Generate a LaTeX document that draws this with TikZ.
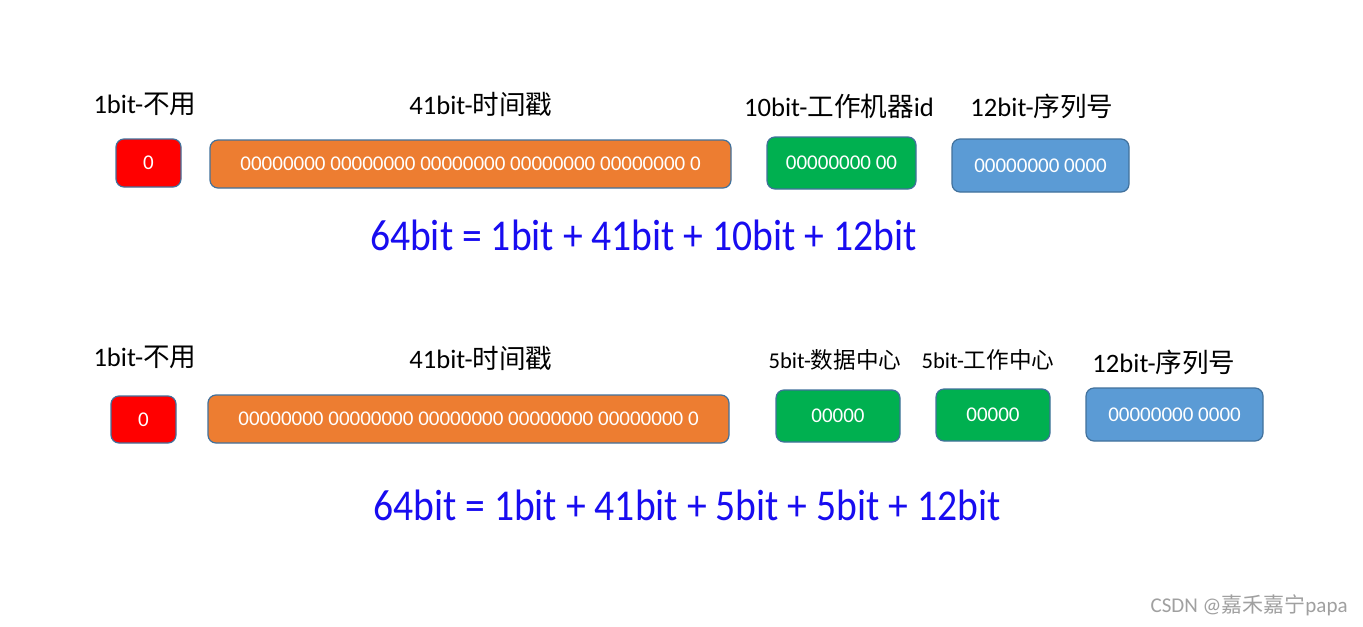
\documentclass[tikz,border=0pt]{standalone}
\usepackage{fontspec}
\setmainfont{Carlito}
\newfontfamily\cjk{Noto Sans CJK SC}
\newfontfamily\sumfont[FakeStretch=0.9]{Carlito}
\newcommand\zh[1]{{\cjk #1}}
\usetikzlibrary{positioning}
\definecolor{signred}{RGB}{255,0,0}
\definecolor{timeorange}{RGB}{237,125,49}
\definecolor{workgreen}{RGB}{0,176,80}
\definecolor{seqblue}{RGB}{91,155,213}
\definecolor{fieldline}{RGB}{65,113,156}
\definecolor{sumblue}{RGB}{24,12,240}
\definecolor{markgray}{RGB}{160,160,160}
\tikzset{
    field/.style={draw=fieldline,line width=0.6pt,rounded corners=4pt,
        text=white,inner sep=0pt,font=\fontsize{10.5}{12}\selectfont},
    title/.style={inner sep=0pt,font=\fontsize{13.3}{15}\selectfont},
    smalltitle/.style={inner sep=0pt,font=\fontsize{11.3}{13}\selectfont},
    sum/.style={inner sep=0pt,text=sumblue,font=\sumfont\fontsize{22}{26}\selectfont}
}

\begin{document}
\begin{tikzpicture}[x=0.5pt,y=-0.5pt]
    \fill[white] (0,0) rectangle (1363,626);
    \useasboundingbox (0,0) rectangle (1363,626);
    % first layout
    \node[title] (t1)  at (145,104)  {1bit-\zh{不用}};
    \node[title] (t2)  at (481,104)  {41bit-\zh{时间戳}};
    \node[title] (t3)  at (839,106)  {10bit-\zh{工作机器}id};
    \node[title] (t4)  at (1042,106) {12bit-\zh{序列号}};
    \node[field,fill=signred,minimum width=32.5pt,minimum height=24pt] (f1) at (148.5,163) {0};
    \node[field,fill=timeorange,minimum width=260.5pt,minimum height=24pt] (f2) at (470.5,164)
        {00000000 00000000 00000000 00000000 00000000 0};
    \node[field,fill=workgreen,minimum width=74.5pt,minimum height=26pt] (f3) at (841.5,163) {00000000 00};
    \node[field,fill=seqblue,minimum width=88.5pt,minimum height=26.5pt] (f4) at (1040.5,165.5) {00000000 0000};
    \node[sum] (s1) at (643.5,235) {64bit = 1bit + 41bit + 10bit + 12bit};
    % second layout
    \node[title] (u1)  at (145,357)  {1bit-\zh{不用}};
    \node[title] (u2)  at (481,358)  {41bit-\zh{时间戳}};
    \node[smalltitle] (u3) at (835,360) {5bit-\zh{数据中心}};
    \node[smalltitle] (u4) at (988,360) {5bit-\zh{工作中心}};
    \node[title] (u5)  at (1164,362) {12bit-\zh{序列号}};
    \node[field,fill=signred,minimum width=32.5pt,minimum height=23.5pt] (g1) at (143.5,419.5) {0};
    \node[field,fill=timeorange,minimum width=260.5pt,minimum height=24pt] (g2) at (468.5,419)
        {00000000 00000000 00000000 00000000 00000000 0};
    \node[field,fill=workgreen,minimum width=62pt,minimum height=26pt] (g3) at (838,416) {00000};
    \node[field,fill=workgreen,minimum width=57pt,minimum height=26pt] (g4) at (993,415) {00000};
    \node[field,fill=seqblue,minimum width=88.5pt,minimum height=26.5pt] (g5) at (1174.5,414.5) {00000000 0000};
    \node[sum] (s2) at (687,505) {64bit = 1bit + 41bit + 5bit + 5bit + 12bit};
    % watermark
    \node[anchor=east,inner sep=0pt,text=markgray,font=\fontsize{10.5}{12}\selectfont] (wm) at (1348,605)
        {CSDN @\zh{嘉禾嘉宁}papa};
\end{tikzpicture}
\end{document}
